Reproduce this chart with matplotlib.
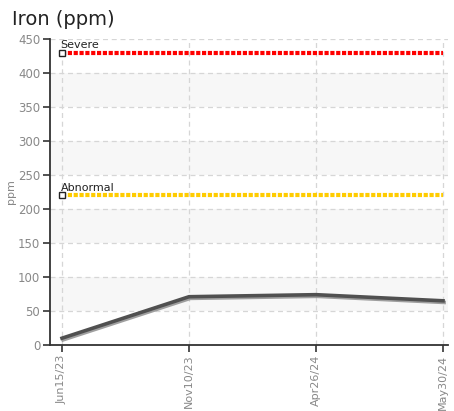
import matplotlib.pyplot as plt
import matplotlib.patheffects as pe

# dados
datas = ["Jun15/23", "Nov10/23", "Apr26/24", "May30/24"]
ferro = [10, 71, 74, 65]
limite_severo = 430
limite_anormal = 220
yticks = list(range(0, 451, 50))

fig = plt.figure(figsize=(4.54, 4.11), dpi=100)
ax = fig.add_axes([0.110, 0.1606, 0.877, 0.7444])

x = list(range(len(datas)))

# faixas cinza alternadas
for i in range(0, len(yticks) - 1):
    if i % 2 == 1:
        ax.axhspan(yticks[i], yticks[i + 1], color="#f7f7f7", zorder=0, lw=0)

ax.grid(True, color="#d6d6d6", linestyle=(0, (4, 3)), linewidth=0.9, zorder=1)

# limites
ax.plot([x[0], x[-1]], [limite_severo] * 2, color="#ff0000", lw=3,
        linestyle=(0, (1, 0.4)), zorder=3)
ax.plot([x[0], x[-1]], [limite_anormal] * 2, color="#ffcc00", lw=3,
        linestyle=(0, (1, 0.4)), zorder=3)
ax.plot([x[0]], [limite_severo], marker="s", ms=5, mfc="white", mec="#222222",
        mew=1, zorder=4)
ax.plot([x[0]], [limite_anormal], marker="s", ms=5, mfc="white", mec="#222222",
        mew=1, zorder=4)
ax.annotate("Severe", (x[0], limite_severo), xytext=(-1, 3), textcoords="offset points",
            fontsize=8, color="#222222", zorder=5)
ax.annotate("Abnormal", (x[0], limite_anormal), xytext=(-1, 3), textcoords="offset points",
            fontsize=8, color="#222222", zorder=5)

# serie
ax.plot(x, ferro, color="#505050", lw=2.6, zorder=6,
        path_effects=[pe.SimpleLineShadow(offset=(0.8, -1.2), shadow_color="#888888", alpha=0.8),
                      pe.Normal()])

ax.set_xlim(-0.095, 3.04)
ax.set_ylim(0, 450)
ax.set_xticks(x)
ax.set_xticklabels(datas, rotation=90, color="#888888", fontsize=8)
ax.set_yticks(yticks)
ax.tick_params(axis="y", labelcolor="#888888", labelsize=8.5, color="#333333",
               direction="out", length=5, width=1.2, pad=2)
ax.tick_params(axis="x", color="#333333", direction="out", length=5, width=1.2, pad=2)
ax.set_ylabel("ppm", color="#888888", fontsize=8)
ax.yaxis.set_label_coords(-0.085, 0.5)

for s in ["top", "right"]:
    ax.spines[s].set_visible(False)
for s in ["left", "bottom"]:
    ax.spines[s].set_color("#333333")
    ax.spines[s].set_linewidth(1.3)

fig.text(0.026, 0.94, "Iron (ppm)", fontsize=14, color="#222222")

fig.savefig("out.png", dpi=100)
